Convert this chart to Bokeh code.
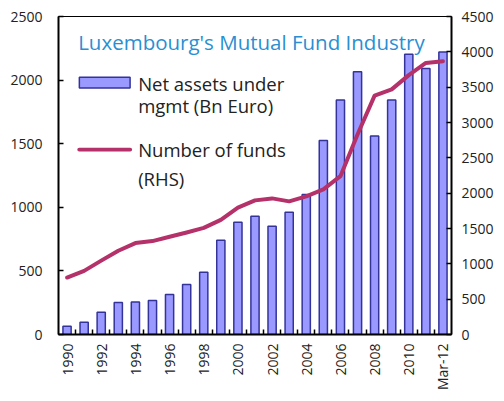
from bokeh.plotting import figure
from bokeh.models import (Range1d, LinearAxis, FixedTicker, Label, BoxAnnotation,
                          ColumnDataSource)
from bokeh.embed import file_html
from bokeh.resources import INLINE

# ---- data ----
categories = ["1990", "1991", "1992", "1993", "1994", "1995", "1996", "1997",
              "1998", "1999", "2000", "2001", "2002", "2003", "2004", "2005",
              "2006", "2007", "2008", "2009", "2010", "2011", "Mar-12"]
net_assets = [65, 96, 174, 252, 255, 268, 315, 393, 490, 740, 883, 930, 851,
              961, 1100, 1525, 1843, 2065, 1560, 1843, 2203, 2091, 2221]
num_funds = [806, 900, 1045, 1185, 1294, 1322, 1383, 1444, 1509, 1622, 1795,
             1898, 1926, 1884, 1955, 2053, 2240, 2830, 3380, 3469, 3670, 3843, 3867]
left_ticks = [0, 500, 1000, 1500, 2000, 2500]
right_ticks = [0, 500, 1000, 1500, 2000, 2500, 3000, 3500, 4000, 4500]
title_text = "Luxembourg's Mutual Fund Industry"
bar_label = ["Net assets under", "mgmt (Bn Euro)"]
line_label = ["Number of funds", "(RHS)"]

BAR_FILL = "#9999FF"
BAR_LINE = "#333399"
LINE_COL = "#B5316A"
TITLE_COL = "#2A8FD2"
FONT = "Open Sans"

n = len(categories)
xpos = [i + 0.5 for i in range(n)]
src = ColumnDataSource(dict(x=xpos, assets=net_assets, funds=num_funds, cat=categories))

p = figure(width=496, height=393, output_backend="svg", toolbar_location=None,
           x_range=Range1d(0, n), y_range=Range1d(0, 2500),
           min_border_left=58, min_border_right=43, min_border_top=16,
           min_border_bottom=57, x_axis_location=None, y_axis_location=None)
p.extra_y_ranges = {"rhs": Range1d(0, 4500)}
p.xgrid.visible = False
p.ygrid.visible = False
p.outline_line_color = "black"
p.outline_line_width = 1
p.background_fill_color = "white"
p.border_fill_color = "white"

p.vbar(x="x", top="assets", width=0.48, bottom=0, source=src,
       fill_color=BAR_FILL, line_color=BAR_LINE, line_width=1.5)
p.line(x="x", y="funds", source=src, y_range_name="rhs",
       line_color=LINE_COL, line_width=4, line_join="round", line_cap="round")

def style_axis(ax):
    ax.axis_line_color = "black"
    ax.axis_line_width = 2
    ax.major_tick_line_color = "black"
    ax.major_tick_line_width = 1.5
    ax.minor_tick_line_color = "black"
    ax.minor_tick_line_width = 1.5
    ax.major_label_text_font = FONT
    ax.major_label_text_font_size = "14px"
    ax.major_label_text_color = "#222222"

# bottom axis: labels at centers of every other category, ticks at boundaries
label_idx = list(range(0, n, 2))
xax = LinearAxis(ticker=FixedTicker(ticks=[xpos[i] for i in label_idx],
                                    minor_ticks=list(range(1, n))))
xax.major_label_overrides = {xpos[i]: categories[i] for i in label_idx}
style_axis(xax)
xax.major_tick_in = 0
xax.major_tick_out = 0
xax.minor_tick_in = 5
xax.minor_tick_out = 0
xax.major_label_orientation = 1.5708
xax.major_label_standoff = 9
p.add_layout(xax, "below")

lax = LinearAxis(ticker=FixedTicker(ticks=left_ticks, minor_ticks=[]))
style_axis(lax)
lax.major_tick_in = 5
lax.major_tick_out = 0
lax.major_label_standoff = 16
p.add_layout(lax, "left")

rax = LinearAxis(y_range_name="rhs", ticker=FixedTicker(ticks=right_ticks, minor_ticks=[]))
style_axis(rax)
rax.major_tick_in = 5
rax.major_tick_out = 0
rax.major_label_standoff = 10
p.add_layout(rax, "right")

# title inside plot
p.add_layout(Label(x=1.15, y=2297, text=title_text, text_font=FONT,
                   text_font_size="20.5px", text_color=TITLE_COL,
                   text_baseline="middle", text_align="left"))

# legend (manual)
p.add_layout(BoxAnnotation(left=1.22, right=4.19, bottom=1937, top=2023,
                           fill_color=BAR_FILL, fill_alpha=1,
                           line_color=BAR_LINE, line_width=1.5, line_alpha=1))
p.add_layout(BoxAnnotation(left=1.1, right=4.31, bottom=1438, top=1469,
                           fill_color=LINE_COL, fill_alpha=1, line_alpha=0,
                           border_radius=2))
for txt, yy in zip(bar_label + line_label, [1977, 1797, 1453, 1227]):
    p.add_layout(Label(x=4.66, y=yy, text=txt, text_font=FONT,
                       text_font_size="18.5px", text_color="#222222",
                       text_baseline="middle", text_align="left"))

open("out.html", "w").write(file_html(p, INLINE))
